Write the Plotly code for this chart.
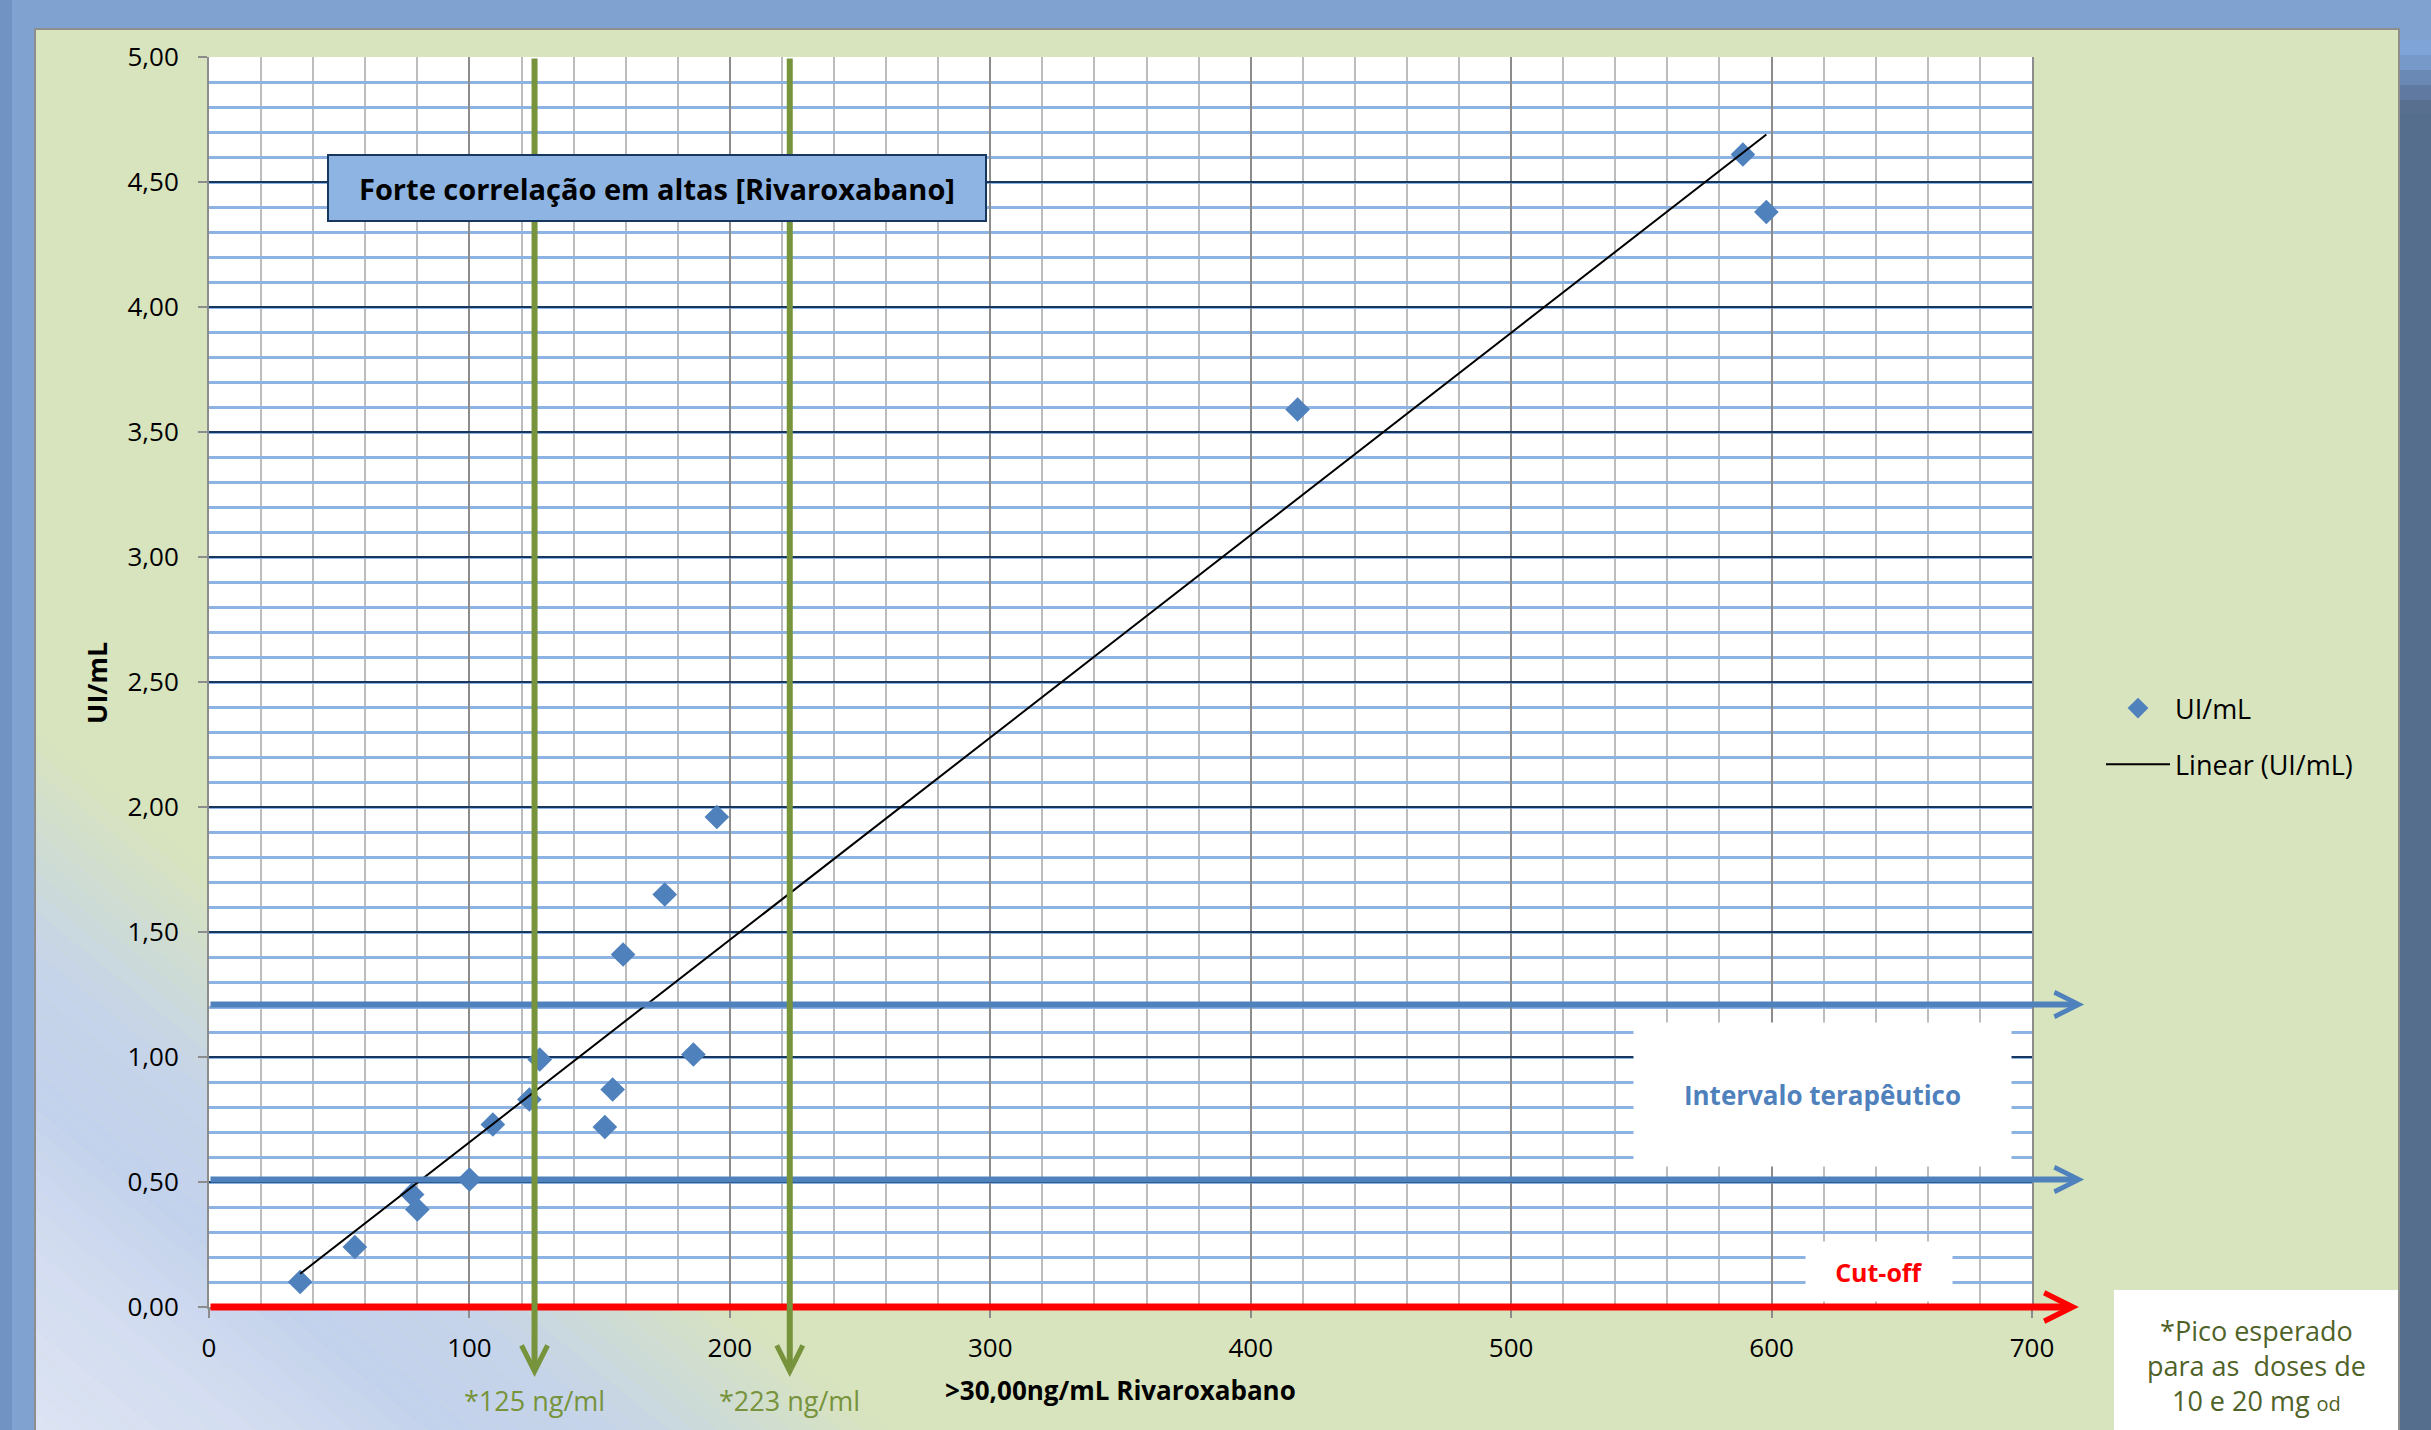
import numpy as np
import plotly.graph_objects as go

# ---------------- data ----------------
conc_ng_ml = [35, 56, 78, 80, 100, 109, 123, 127, 152, 155, 159, 175, 186, 195, 418, 589, 598]
ui_ml = [0.10, 0.24, 0.45, 0.39, 0.51, 0.73, 0.83, 0.99, 0.72, 0.87, 1.41, 1.65, 1.01, 1.96, 3.59, 4.61, 4.38]

x_ticks = [0, 100, 200, 300, 400, 500, 600, 700]
y_ticks = [0.0, 0.5, 1.0, 1.5, 2.0, 2.5, 3.0, 3.5, 4.0, 4.5, 5.0]

peak_markers = [125, 223]            # expected peak concentrations (ng/ml)
peak_labels = ["*125 ng/ml", "*223 ng/ml"]
therapeutic_limits = [0.51, 1.21]    # UI/mL
cutoff_level = 0.0

series_name = "UI/mL"
trend_name = "Linear (UI/mL)"
title_text = "Forte correlação em altas [Rivaroxabano]"
x_title = ">30,00ng/mL Rivaroxabano"
y_title = "UI/mL"
interval_text = "Intervalo terapêutico"
cutoff_text = "Cut-off"
note_text = "*Pico esperado<br>para as  doses de<br>10 e 20 mg <span style='font-size:20px'>od</span>"

# ---------------- geometry helpers ----------------
W, H = 2431, 1430
PL, PR, PT, PB = 209, 2032, 57, 1307


def px_x(px):
    return (px - PL) / (PR - PL)


def px_y(py):
    return (PB - py) / (PB - PT)


FONT = "Open Sans, Liberation Sans, Arial, sans-serif"
BLUE = "#4F81BD"
GREEN = "#77933C"

# trendline from least squares fit
slope, intercept = np.polyfit(conc_ng_ml, ui_ml, 1)
trend_x = [min(conc_ng_ml), max(conc_ng_ml)]
trend_y = [slope * v + intercept for v in trend_x]

fig = go.Figure()
fig.add_trace(go.Scatter(
    x=conc_ng_ml, y=ui_ml, mode="markers", name=series_name,
    marker=dict(symbol="diamond", size=19, color=BLUE, line=dict(width=0)),
    legendgroup="a",
))
fig.add_trace(go.Scatter(
    x=trend_x, y=trend_y, mode="lines", name=trend_name,
    line=dict(color="black", width=2),
    legendgroup="b",
))

shapes = []
# left strip shading
shapes.append(dict(type="rect", xref="paper", yref="paper", layer="below",
                   x0=px_x(0), x1=px_x(12), y0=px_y(0), y1=px_y(H),
                   fillcolor="#7093C4", line=dict(width=0)))
# right dark strip with gradient at top
top_cols = ["#7FA5D8", "#7799C9", "#6B89B5", "#6079A0", "#586F90"]
for i, c in enumerate(top_cols):
    shapes.append(dict(type="rect", xref="paper", yref="paper", layer="below",
                       x0=px_x(2399), x1=px_x(W), y0=px_y(40 + i * 15), y1=px_y(55 + i * 15),
                       fillcolor=c, line=dict(width=0)))
shapes.append(dict(type="rect", xref="paper", yref="paper", layer="below",
                   x0=px_x(2399), x1=px_x(W), y0=px_y(114), y1=px_y(H),
                   fillcolor="#566E8E", line=dict(width=0)))
# inner panel
shapes.append(dict(type="rect", xref="paper", yref="paper", layer="below",
                   x0=px_x(35), x1=px_x(2399), y0=px_y(29), y1=px_y(H + 5),
                   fillcolor="#D8E4BD", line=dict(color="#8E8E8E", width=2)))


# diagonal gradient in lower-left of panel
def mix(c1, c2, t):
    a = [int(c1[i:i + 2], 16) for i in (1, 3, 5)]
    b = [int(c2[i:i + 2], 16) for i in (1, 3, 5)]
    return "#" + "".join("%02X" % int(round(a[k] + (b[k] - a[k]) * t)) for k in range(3))


stops = [(0, "#DCE3F3"), (180, "#D3DDF1"), (330, "#C3D2EC"), (480, "#C6D4E9"), (700, "#D8E4BD")]
K = 0.82
nb = 35
dmax = 700
for i in range(nb):
    a = dmax * i / nb
    b = dmax * (i + 1) / nb
    m = (a + b) / 2
    for j in range(len(stops) - 1):
        if stops[j][0] <= m <= stops[j + 1][0]:
            t = (m - stops[j][0]) / (stops[j + 1][0] - stops[j][0])
            col = mix(stops[j][1], stops[j + 1][1], t)
            break
    pts = [(36, H - a), (36, H - b), (36 + b / K, H), (36 + a / K, H)]
    path = "M " + " L ".join("%.5f,%.5f" % (px_x(p[0]), px_y(p[1])) for p in pts) + " Z"
    shapes.append(dict(type="path", xref="paper", yref="paper", layer="below",
                       path=path, fillcolor=col, line=dict(width=0)))

# white plot area
shapes.append(dict(type="rect", xref="paper", yref="paper", layer="below",
                   x0=0, x1=1, y0=0, y1=1, fillcolor="white", line=dict(width=0)))

# white note box bottom right
shapes.append(dict(type="rect", xref="paper", yref="paper", layer="below",
                   x0=px_x(2114), x1=px_x(2398), y0=px_y(1290), y1=px_y(H + 5),
                   fillcolor="white", line=dict(width=0)))

ann = []
# red cut-off arrow
ann.append(dict(x=718, y=cutoff_level, ax=0, ay=cutoff_level, xref="x", yref="y", axref="x", ayref="y",
                text="", showarrow=True, arrowhead=5, arrowsize=0.8, arrowwidth=7, arrowcolor="#FF0000",
                standoff=0))
# blue therapeutic range arrows
for lv in therapeutic_limits:
    ann.append(dict(x=720, y=lv, ax=0, ay=lv, xref="x", yref="y", axref="x", ayref="y",
                    text="", showarrow=True, arrowhead=5, arrowsize=0.8, arrowwidth=6, arrowcolor=BLUE,
                    standoff=0))
# green vertical arrows
for xv in peak_markers:
    ann.append(dict(x=xv, y=-0.28, ax=xv, ay=5.0, xref="x", yref="y", axref="x", ayref="y",
                    text="", showarrow=True, arrowhead=5, arrowsize=0.85, arrowwidth=6, arrowcolor=GREEN,
                    standoff=0))
# green labels
for xv, lab in zip(peak_markers, peak_labels):
    ann.append(dict(x=xv, y=px_y(1400), xref="x", yref="paper", text=lab, showarrow=False,
                    font=dict(family=FONT, size=27, color=GREEN), xanchor="center", yanchor="middle"))
# title box
ann.append(dict(x=px_x(657), y=px_y(188), xref="paper", yref="paper", text="<b>" + title_text + "</b>",
                showarrow=False, bgcolor="#8DB4E2", bordercolor="#17375E", borderwidth=2,
                width=654, height=62, font=dict(family=FONT, size=29, color="black"),
                xanchor="center", yanchor="middle"))
# therapeutic interval box
ann.append(dict(x=px_x(1822), y=px_y(1094), xref="paper", yref="paper", text="<b>" + interval_text + "</b>",
                showarrow=False, bgcolor="white", width=375, height=141,
                font=dict(family=FONT, size=26, color=BLUE), xanchor="center", yanchor="middle"))
# cut-off box
ann.append(dict(x=px_x(1879), y=px_y(1271), xref="paper", yref="paper", text="<b>" + cutoff_text + "</b>",
                showarrow=False, bgcolor="white", width=144, height=57,
                font=dict(family=FONT, size=25, color="#FF0000"), xanchor="center", yanchor="middle"))
# axis titles
ann.append(dict(x=0.5, y=px_y(1390), xref="paper", yref="paper", text="<b>" + x_title + "</b>",
                showarrow=False, font=dict(family=FONT, size=26, color="black"),
                xanchor="center", yanchor="middle"))
ann.append(dict(x=px_x(96), y=px_y(683), xref="paper", yref="paper", text="<b>" + y_title + "</b>",
                showarrow=False, textangle=-90, font=dict(family=FONT, size=27, color="black"),
                xanchor="center", yanchor="middle"))
# note text
ann.append(dict(x=px_x(2256), y=px_y(1365), xref="paper", yref="paper", text=note_text,
                showarrow=False, font=dict(family=FONT, size=27, color="#4F6228"),
                xanchor="center", yanchor="middle", align="center"))

fig.update_layout(
    width=W, height=H, autosize=False,
    margin=dict(l=PL, r=W - PR, t=PT, b=H - PB, pad=0),
    paper_bgcolor="#7FA2D0",
    plot_bgcolor="white",
    separators=",.",
    shapes=shapes,
    annotations=ann,
    showlegend=True,
    legend=dict(x=px_x(2101), y=px_y(684), xanchor="left", yanchor="top",
                bgcolor="rgba(0,0,0,0)", font=dict(family=FONT, size=27, color="black"),
                itemwidth=64, tracegroupgap=18, traceorder="grouped"),
    xaxis=dict(range=[0, 700], tickvals=x_ticks, tickformat="d",
               showgrid=True, gridcolor="#8C8C8C", gridwidth=1.5,
               minor=dict(dtick=20, showgrid=True, gridcolor="#BDBDBD", gridwidth=2),
               showline=True, linecolor="#8C8C8C", linewidth=2, mirror=False,
               ticks="outside", ticklen=9, tickcolor="#8C8C8C", tickwidth=2,
               tickfont=dict(family=FONT, size=26, color="black"), ticklabelstandoff=8,
               zeroline=False, fixedrange=True),
    yaxis=dict(range=[0, 5], tickvals=y_ticks, tickformat=".2f",
               showgrid=True, gridcolor="#17375E", gridwidth=2,
               minor=dict(dtick=0.1, showgrid=True, gridcolor="#8DB3E2", gridwidth=3),
               showline=True, linecolor="#8C8C8C", linewidth=2, mirror=True,
               ticks="outside", ticklen=9, tickcolor="#8C8C8C", tickwidth=2,
               tickfont=dict(family=FONT, size=26, color="black"), ticklabelstandoff=14,
               zeroline=False, fixedrange=True),
)

fig.write_html("out.html", config={"displayModeBar": False},
               post_script="document.body.style.margin='0';document.body.style.overflow='hidden';")
